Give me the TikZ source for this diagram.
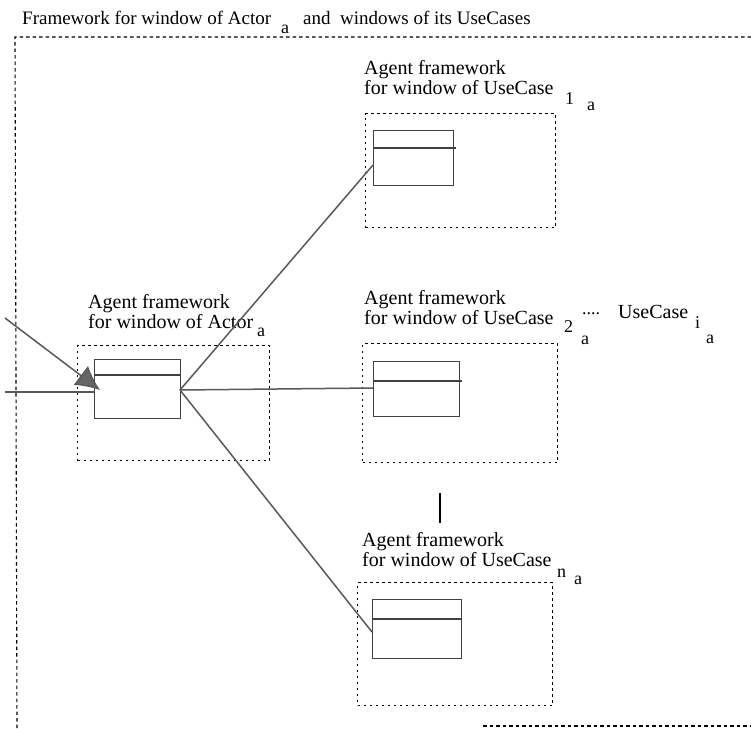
\documentclass[tikz,border=0pt]{standalone}
\usepackage{fontspec}
\setmainfont{Liberation Serif}
\usetikzlibrary{arrows.meta}
\begin{document}
\begin{tikzpicture}[x=1pt,y=-1pt,
  txt/.style={anchor=base west,inner sep=0pt,font=\fontsize{20}{22}\selectfont},
  ttl/.style={anchor=base west,inner sep=0pt,font=\fontsize{19}{21}\selectfont},
  sub/.style={anchor=base west,inner sep=0pt,font=\fontsize{18}{20}\selectfont},
  framebox/.style={draw,line width=1.1pt,dash pattern=on 2.5pt off 3.5pt,inner sep=0pt,anchor=north west},
  outer/.style={line width=1.1pt,dash pattern=on 3.5pt off 3pt},
  win/.style={draw=black!75,line width=1.4pt,inner sep=0pt,anchor=north west},
  sep/.style={draw=black!75,line width=1.4pt},
  link/.style={draw=black!65,line width=1.5pt},
]
\useasboundingbox (0,0) rectangle (751,728);

% outer frame
\coordinate (o1) at (751,37);
\coordinate (o2) at (15,37);
\coordinate (o3) at (17,728);
\coordinate (o4) at (483,726);
\coordinate (o5) at (751,726);
\draw[outer] (o1) -- (o2) -- (o3);
\draw[outer] (o4) -- (o5);

% title
\node[ttl] (t1) at (22,24) {Framework for window of Actor};
\node[sub] (t2) at (281,33) {a};
\node[ttl] (t3) at (303,24) {and\ \ windows of its UseCases};

% actor framework
\node[framebox,minimum width=192pt,minimum height=115pt] (af) at (77,345) {};
\node[win,minimum width=86pt,minimum height=59pt] (aw) at (94,359) {};
\draw[sep] ([yshift=-16pt]aw.north west) -- ([yshift=-16pt]aw.north east);
\node[txt] (al1) at (88,308) {Agent framework};
\node[txt] (al2) at (88,328) {for window of Actor};
\node[sub] (al3) at (257,336) {a};

% use case 1
\node[framebox,minimum width=190pt,minimum height=114pt] (f1) at (365,113) {};
\node[win,minimum width=80pt,minimum height=55pt] (w1) at (373,130) {};
\draw[sep] ([yshift=-18pt]w1.north west) -- ([yshift=-18pt,xshift=2pt]w1.north east);
\node[txt] (l1a) at (364,74) {Agent framework};
\node[txt] (l1b) at (364,94) {for window of UseCase};
\node[sub] (l1c) at (565,104) {1};
\node[sub] (l1d) at (587,110) {a};

% use case 2
\node[framebox,minimum width=195pt,minimum height=119pt] (f2) at (362,343) {};
\node[win,minimum width=86pt,minimum height=55pt] (w2) at (373,361) {};
\draw[sep] ([yshift=-20pt]w2.north west) -- ([yshift=-20pt,xshift=2pt]w2.north east);
\node[txt] (l2a) at (364,304) {Agent framework};
\node[txt] (l2b) at (364,324) {for window of UseCase};
\node[sub] (l2c) at (564,332) {2};
\node[sub] (l2d) at (581,344) {a};
\node[sub] (dots) at (582,314) {....};
\node[txt] (ui) at (618,318) {UseCase};
\node[sub] (uii) at (695,328) {i};
\node[sub] (uia) at (706,343) {a};

% vertical bar
\coordinate (v1) at (440,493);
\coordinate (v2) at (440,523);
\draw[line width=1.5pt] (v1) -- (v2);

% use case n
\node[framebox,minimum width=195pt,minimum height=123pt] (fn) at (357,582) {};
\node[win,minimum width=89pt,minimum height=59pt] (wn) at (372,599) {};
\draw[sep] ([yshift=-20pt]wn.north west) -- ([yshift=-20pt]wn.north east);
\node[txt] (lna) at (362,546) {Agent framework};
\node[txt] (lnb) at (362,566) {for window of UseCase};
\node[sub] (lnc) at (557,577) {n};
\node[sub] (lnd) at (574,584) {a};

% incoming connectors
\coordinate (inA) at (5,318);
\coordinate (tip) at (100,390);
\coordinate (inB) at (5,392);
\draw[link,-{Latex[length=24pt,width=24pt,fill=black!60]}] (inA) -- (tip);
\draw[link] (inB) -- (inB -| aw.west);

% outgoing connectors
\coordinate (aout) at (180,390);
\coordinate (u1in) at (373,165);
\coordinate (u2in) at (373,388);
\coordinate (unin) at (372,632);
\draw[link] (aout) -- (u1in);
\draw[link] (aout) -- (u2in);
\draw[link] (aout) -- (unin);
\end{tikzpicture}
\end{document}
